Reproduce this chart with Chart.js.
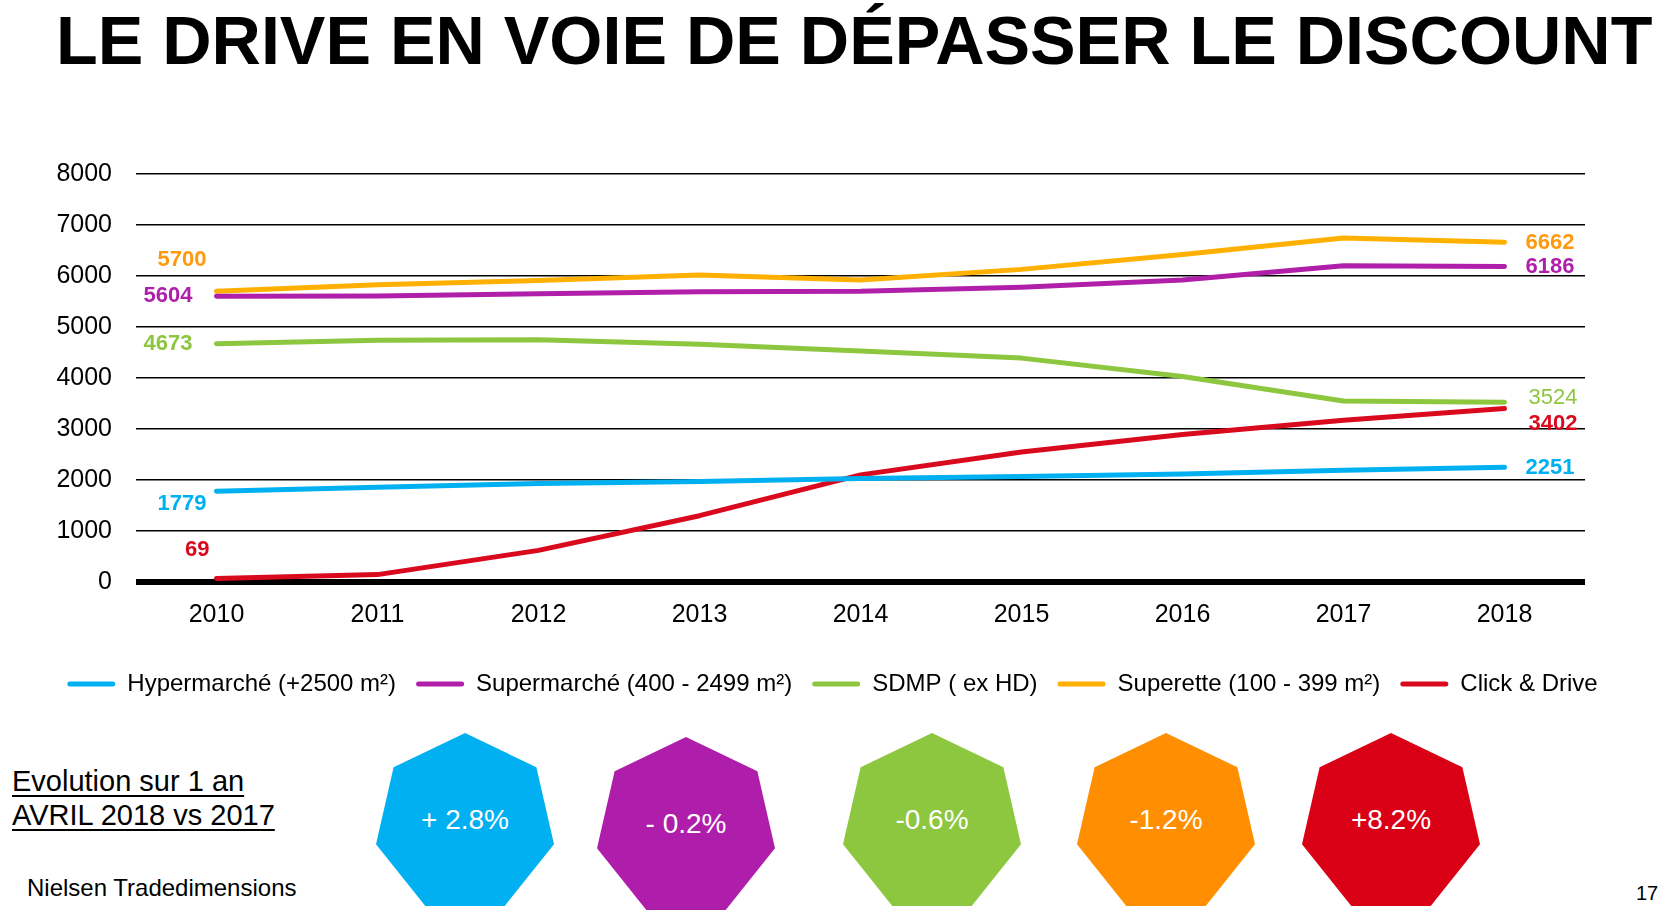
<!DOCTYPE html>
<html lang="fr">
<head>
<meta charset="utf-8">
<title>Le drive en voie de dépasser le discount</title>
<script src="https://cdn.jsdelivr.net/npm/chart.js@4.4.1/dist/chart.umd.min.js"></script>
<style>
  html, body { margin: 0; padding: 0; background: #fff; }
  body { width: 1665px; height: 914px; position: relative; overflow: hidden;
         font-family: 'Liberation Sans', Arial, sans-serif; color: #000; }
  #title { position: absolute; left: 56px; top: 6px; font-size: 68.3px; line-height: 68px;
           font-weight: bold; white-space: nowrap; }
  #chartBox { position: absolute; left: 0; top: 0; width: 1665px; height: 712px; }
  .hepta { position: absolute; width: 178px; height: 173px; color: #fff; font-size: 28px;
           display: flex; align-items: center; justify-content: center;
           clip-path: polygon(50% 0%, 90.1% 19.8%, 100% 64.3%, 72.3% 100%, 27.7% 100%, 0% 64.3%, 9.9% 19.8%); }
  #evol { position: absolute; left: 12px; top: 764px; font-size: 29px; line-height: 34px; }
  #evol span { text-decoration: underline; text-underline-offset: 4px; }
  #source { position: absolute; left: 27px; top: 874px; font-size: 24px; }
  #page { position: absolute; left: 1636px; top: 882px; font-size: 20px; }
</style>
</head>
<body>
<div id="title">LE DRIVE EN VOIE DE DÉPASSER LE DISCOUNT</div>
<div id="chartBox"><canvas id="drive"></canvas></div>
<div id="evol"><span>Evolution sur 1 an</span><br><span>AVRIL 2018 vs 2017</span></div>
<div id="source">Nielsen Tradedimensions</div>
<div id="page">17</div>
<script>
// values (number of stores per format)
const years = ['2010', '2011', '2012', '2013', '2014', '2015', '2016', '2017', '2018'];
const hyper = [1779, 1860, 1930, 1970, 2030, 2070, 2120, 2190, 2251];
const superm = [5604, 5610, 5650, 5690, 5700, 5780, 5920, 6200, 6186];
const sdmp = [4673, 4740, 4750, 4660, 4530, 4390, 4030, 3550, 3524];
const superette = [5700, 5830, 5910, 6020, 5920, 6130, 6420, 6745, 6662];
const drive = [69, 145, 620, 1300, 2100, 2550, 2890, 3170, 3402];
const seriesNames = ['Hypermarché (+2500 m²)', 'Supermarché (400 - 2499 m²)', 'SDMP ( ex HD)',
  'Superette (100 - 399 m²)', 'Click & Drive'];
const evolLabels = ['+ 2.8%', '- 0.2%', '-0.6%', '-1.2%', '+8.2%'];

// styling
const lineColors = ['#00B0F0', '#B01FAA', '#8DC63F', '#FFB000', '#DA0A1E'];
const labelColors = ['#00B0F0', '#B01FAA', '#8DC63F', '#FF9A10', '#DA0A1E'];
const heptaColors = ['#00B0F0', '#AF1EAB', '#8DC63F', '#FF8F00', '#DA0016'];
const heptaPos = [[376, 733], [597, 737], [843, 733], [1077, 733], [1302, 733]];

// offsets for the start / end value labels: [dx, dy, align, bold]
const labelSpecs = [
  { first: [-10, 13, 'right', true], last: [21, 1, 'left', true] },
  { first: [-24, 0, 'right', true], last: [21, 0, 'left', true] },
  { first: [-24, 0, 'right', true], last: [24, -4, 'left', false] },
  { first: [-10, -31, 'right', true], last: [21, 1, 'left', true] },
  { first: [-7, -29, 'right', true], last: [24, 15, 'left', true] }
];

// heptagons with the yearly evolution
evolLabels.forEach((txt, i) => {
  const d = document.createElement('div');
  d.className = 'hepta';
  d.style.left = heptaPos[i][0] + 'px';
  d.style.top = heptaPos[i][1] + 'px';
  d.style.background = heptaColors[i];
  d.textContent = txt;
  document.body.appendChild(d);
});

const endLabels = {
  id: 'endLabels',
  afterDatasetsDraw(chart) {
    const ctx = chart.ctx;
    chart.data.datasets.forEach((ds, i) => {
      const pts = chart.getDatasetMeta(i).data;
      const spec = labelSpecs[i];
      [[0, spec.first], [pts.length - 1, spec.last]].forEach(([idx, s]) => {
        const p = pts[idx];
        ctx.save();
        ctx.font = (s[3] ? 'bold ' : '') + '22px "Liberation Sans", Arial, sans-serif';
        ctx.fillStyle = labelColors[i];
        ctx.textAlign = s[2];
        ctx.textBaseline = 'middle';
        ctx.fillText(String(ds.data[idx]), p.x + s[0], p.y + s[1]);
        ctx.restore();
      });
    });
  }
};

Chart.defaults.font.family = "'Liberation Sans', Arial, sans-serif";
Chart.defaults.color = '#000';

const allSeries = [hyper, superm, sdmp, superette, drive];

new Chart(document.getElementById('drive'), {
  type: 'line',
  data: {
    labels: years,
    datasets: allSeries.map((vals, i) => ({
      label: seriesNames[i],
      data: vals,
      borderColor: lineColors[i],
      backgroundColor: lineColors[i],
      borderWidth: 5,
      borderCapStyle: 'round',
      borderJoinStyle: 'round',
      pointRadius: 0,
      tension: 0,
      fill: false
    }))
  },
  options: {
    responsive: true,
    maintainAspectRatio: false,
    animation: false,
    layout: { padding: { left: 0, right: 0, top: 174, bottom: 6 } },
    plugins: {
      title: { display: false },
      tooltip: { enabled: false },
      legend: {
        position: 'bottom',
        labels: {
          boxWidth: 48,
          boxHeight: 5,
          padding: 20,
          font: { size: 24 },
          color: '#000',
          useBorderRadius: true,
          borderRadius: 2.5,
          generateLabels(chart) {
            const items = Chart.defaults.plugins.legend.labels.generateLabels(chart);
            items.forEach(it => { it.fillStyle = it.strokeStyle; it.lineWidth = 0; });
            return items;
          }
        }
      }
    },
    scales: {
      x: {
        offset: true,
        grid: { display: false },
        border: { display: false },
        ticks: { font: { size: 25 }, color: '#000', padding: 10 },
        afterFit(s) { s.height = 70; }
      },
      y: {
        min: 0,
        max: 8000,
        ticks: {
          stepSize: 1000,
          font: { size: 25 },
          color: '#000',
          padding: 24,
          callback: v => String(v)
        },
        grid: {
          color: '#000',
          drawTicks: false,
          lineWidth: c => (c.tick && c.tick.value === 0 ? 6 : 1.6)
        },
        border: { display: false },
        afterFit(s) { s.width = 136; }
      },
      // empty right-hand axis, only reserves the margin right of the plot
      yRight: {
        position: 'right',
        min: 0,
        max: 8000,
        ticks: { display: false },
        grid: { display: false },
        border: { display: false },
        afterFit(s) { s.width = 80; }
      }
    }
  },
  plugins: [endLabels]
});
</script>
</body>
</html>
